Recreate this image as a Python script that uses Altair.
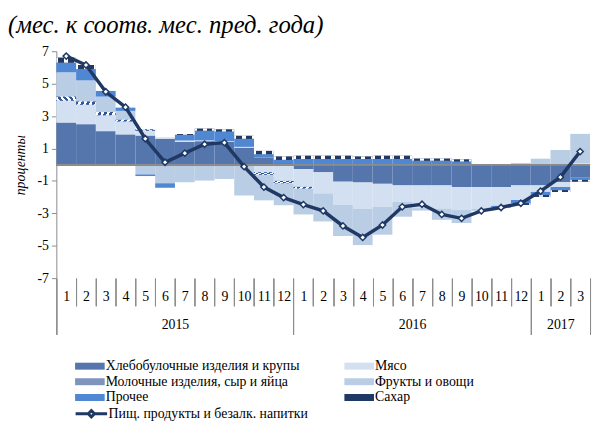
import altair as alt
import pandas as pd

# ---- data ----
months_idx = list(range(27))  # Jan 2015 .. Mar 2017
years = ["2015", "2016", "2017"]
series_names = [
    "Хлебобулочные изделия и крупы",
    "Мясо",
    "Молочные изделия, сыр и яйца",
    "Фрукты и овощи",
    "Прочее",
    "Сахар",
]
bread = [2.6, 2.5, 2.07, 1.87, 1.8, 1.6, 1.4, 1.45, 1.4, 1.05, 0.45, 0.1,
         -0.27, -0.47, -1.05, -1.1, -1.18, -1.28, -1.28, -1.28, -1.38, -1.38, -1.38, -1.28,
         -1.28, -1.08, -0.77]
meat = [1.35, 1.2, 0.98, 0.8, 0.3, 0.1, 0.1, 0.05, 0.05, 0.05, -0.47, -1.0,
        -1.1, -1.3, -1.42, -1.62, -1.42, -1.02, -1.4, -1.42, -1.42, -1.35, -1.12, -0.9,
        -0.4, -0.3, 0.1]
dairy = [0.25, 0.2, 0.2, 0.1, 0.08, 0.0, 0.0, 0.0, 0.0, 0.0, -0.15, -0.15,
         -0.1, 0.0, 0.0, 0.0, 0.0, 0.0, 0.0, 0.0, 0.0, 0.0, 0.0, 0.0,
         0.0, 0.0, 0.0]
fruit = [1.5, 1.3, 0.95, 0.55, -0.6, -1.14, -1.08, -0.98, -0.88, -1.9, -1.58, -1.35,
         -1.6, -1.73, -1.93, -2.24, -1.72, -0.91, -0.15, -0.7, -0.8, -0.12, -0.05, 0.1,
         0.37, 0.91, 1.8]
other = [0.6, 0.7, 0.35, 0.2, -0.1, -0.28, 0.35, 0.6, 0.6, 0.5, 0.2, 0.2,
         0.35, 0.35, 0.35, 0.35, 0.35, 0.35, 0.25, 0.25, 0.2, 0.0, -0.1, -0.2,
         -0.2, -0.2, -0.17]
sugar = [0.3, 0.25, 0.0, 0.0, 0.0, 0.0, 0.05, 0.12, 0.12, 0.18, 0.2, 0.2,
         0.2, 0.2, 0.2, 0.15, 0.2, 0.2, 0.12, 0.12, 0.12, 0.0, 0.0, -0.1,
         -0.1, -0.1, -0.1]
line_name = "Пищ. продукты и безалк. напитки"
food = [6.7, 6.15, 4.5, 3.55, 1.6, 0.15, 0.71, 1.26, 1.36, -0.12, -1.38, -2.03,
        -2.46, -2.85, -3.78, -4.49, -3.72, -2.6, -2.44, -3.07, -3.31, -2.85, -2.64, -2.38,
        -1.63, -0.77, 0.81]

subtitle = "(мес. к соотв. мес. пред. года)"
y_title = "проценты"

# ---- tables ----
rows = []
for k, (name, vals) in enumerate(zip(series_names, [bread, meat, dairy, fruit, other, sugar])):
    for i, v in zip(months_idx, vals):
        rows.append({"idx": i, "series": name, "ord": k, "value": v})
df = pd.DataFrame(rows)
line_df = pd.DataFrame({"idx": months_idx, "food": food, "name": line_name})

# ---- styles ----
NAVY = "#1f3864"
GREY = "#8c8c8c"
SERIF = "Liberation Serif"
color_of = {
    series_names[0]: "#5576ad",
    series_names[1]: "#d3e0f1",
    series_names[2]: "#7d95bd",
    series_names[3]: "#b9cde5",
    series_names[4]: "#4f87d3",
    series_names[5]: "#1f3864",
}
# legend is laid out column-major: put the entries so that rows read as in the original
legend_order = [series_names[i] for i in (0, 2, 4, 1, 3, 5)]

xscale = alt.Scale(domain=[0, 27], nice=False, zero=False)
yscale = alt.Scale(domain=[-7, 7], nice=False)

yax = alt.Axis(title=y_title, values=list(range(-7, 8, 2)), grid=False,
               labelExpr="'' + datum.value",
               domainColor=GREY, tickColor=GREY, tickSize=5,
               labelFont=SERIF, labelFontSize=14, labelColor="black", labelPadding=3,
               titleFont=SERIF, titleFontStyle="italic", titleFontWeight="normal",
               titleFontSize=14, titleColor="black", titlePadding=10)

year_ticks = "datum.value % 12 == 0 || datum.value == 27"
ax_ticks = alt.Axis(orient="bottom", values=list(range(28)), labels=False, domain=False,
                    grid=False, ticks=True, tickColor=GREY, tickWidth=1, title=None,
                    tickSize={"condition": {"test": year_ticks, "value": 57}, "value": 28})
ax_months = alt.Axis(orient="bottom", values=[i + 0.5 for i in months_idx],
                     labelExpr="floor(datum.value) % 12 + 1", ticks=False, domain=False,
                     grid=False, labelFont=SERIF, labelFontSize=14, labelColor="black",
                     labelPadding=12, labelFlush=False, labelOverlap=False, title=None)
year_expr = "datum.value < 12 ? '%s' : (datum.value < 24 ? '%s' : '%s')" % tuple(years)
ax_years = alt.Axis(orient="bottom", values=[6, 18, 25.5], labelExpr=year_expr,
                    ticks=False, domain=False, grid=False, labelFont=SERIF,
                    labelFontSize=14, labelColor="black", labelPadding=40,
                    labelFlush=False, labelOverlap=False, title=None)

rect_path = "M-2,-0.47H2V0.47H-2Z"
line_path = "M-2.13,0H-0.42M0.42,0H2.13M-0.42,0L0,-0.42L0.42,0L0,0.42Z"

base = alt.Chart(df).transform_stack(
    stack="value", groupby=["idx"], sort=[alt.SortField("ord", order="ascending")],
    as_=["v0", "v1"]
).transform_calculate(x1="datum.idx + 1")

bars = base.mark_bar(strokeWidth=0).encode(
    x=alt.X("idx:Q", scale=xscale, axis=ax_ticks),
    x2="x1:Q",
    y=alt.Y("v0:Q", scale=yscale, axis=yax),
    y2="v1:Q",
    color=alt.Color("series:N",
                    scale=alt.Scale(domain=legend_order,
                                    range=[color_of[s] for s in legend_order]),
                    legend=alt.Legend(orient="none", legendX=26.5, legendY=311.5, columns=2,
                                      columnPadding=44, rowPadding=1, title=None,
                                      symbolType=rect_path, symbolSize=225,
                                      symbolStrokeWidth=0, labelFont=SERIF,
                                      labelFontSize=14, labelColor="black",
                                      labelLimit=300, labelOffset=8.5)),
)

stripe_stops = []
for k in range(7):
    a, b, c = k / 7, k / 7 + 0.5 / 7, (k + 1) / 7
    stripe_stops += [alt.GradientStop(offset=a, color="#2f5597"),
                     alt.GradientStop(offset=b, color="#2f5597"),
                     alt.GradientStop(offset=b, color="#ffffff"),
                     alt.GradientStop(offset=c, color="#ffffff")]
dairy_fill = alt.LinearGradient(gradient="linear", x1=0, y1=0, x2=1, y2=1, stops=stripe_stops)

dash_stops = []
for a, b, col in [(0.0, 0.1, "#ffffff"), (0.1, 0.4, NAVY), (0.4, 0.6, "#ffffff"),
                  (0.6, 0.9, NAVY), (0.9, 1.0, "#ffffff")]:
    dash_stops += [alt.GradientStop(offset=a, color=col), alt.GradientStop(offset=b, color=col)]
sugar_fill = alt.LinearGradient(gradient="linear", x1=0, y1=0, x2=1, y2=0, stops=dash_stops)

dairy_bars = base.transform_filter(alt.datum.series == series_names[2]).mark_bar(
    fill=dairy_fill, strokeWidth=0).encode(
    x=alt.X("idx:Q", scale=xscale, axis=ax_ticks), x2="x1:Q",
    y=alt.Y("v0:Q", scale=yscale, axis=yax), y2="v1:Q")

sugar_bars = base.transform_filter(alt.datum.series == series_names[5]).mark_bar(
    fill=sugar_fill, strokeWidth=0).encode(
    x=alt.X("idx:Q", scale=xscale, axis=ax_ticks), x2="x1:Q",
    y=alt.Y("v0:Q", scale=yscale, axis=yax), y2="v1:Q")

zero = alt.Chart(line_df).mark_rule(color=GREY, strokeWidth=1).encode(
    y=alt.datum(0, scale=yscale, axis=yax))

lbase = alt.Chart(line_df).transform_calculate(xc="datum.idx + 0.5")
line = lbase.mark_line(strokeWidth=3.5).encode(
    x=alt.X("xc:Q", scale=xscale, axis=ax_months),
    y=alt.Y("food:Q", scale=yscale, axis=yax),
    stroke=alt.Stroke("name:N", scale=alt.Scale(domain=[line_name], range=[NAVY]),
                      legend=alt.Legend(orient="none", legendX=26.5, legendY=358.5,
                                        title=None, symbolType=line_path, symbolSize=225,
                                        symbolStrokeWidth=3, symbolFillColor="white",
                                        labelFont=SERIF, labelFontSize=14,
                                        labelColor="black", labelLimit=300,
                                        labelOffset=8.5)),
)
pts = lbase.mark_point(shape="diamond", filled=True, fill="white", stroke=NAVY,
                       strokeWidth=1.5, size=40, opacity=1).encode(
    x=alt.X("xc:Q", scale=xscale, axis=ax_years),
    y=alt.Y("food:Q", scale=yscale, axis=yax),
)

chart = alt.layer(bars, dairy_bars, sugar_bars, zero, line, pts).resolve_axis(
    x="independent"
).properties(
    width=541, height=230,
    autosize=alt.AutoSizeParams(type="none"),
    padding={"left": 49, "top": 41, "right": 2, "bottom": 143},
    title=alt.TitleParams(subtitle, anchor="start", frame="group", dx=-49, offset=6,
                          font=SERIF, fontSize=25, fontStyle="italic",
                          fontWeight="normal", color="black"),
).configure_view(stroke=None)

chart.save("out.html", embed_options={"renderer": "svg", "actions": False})
